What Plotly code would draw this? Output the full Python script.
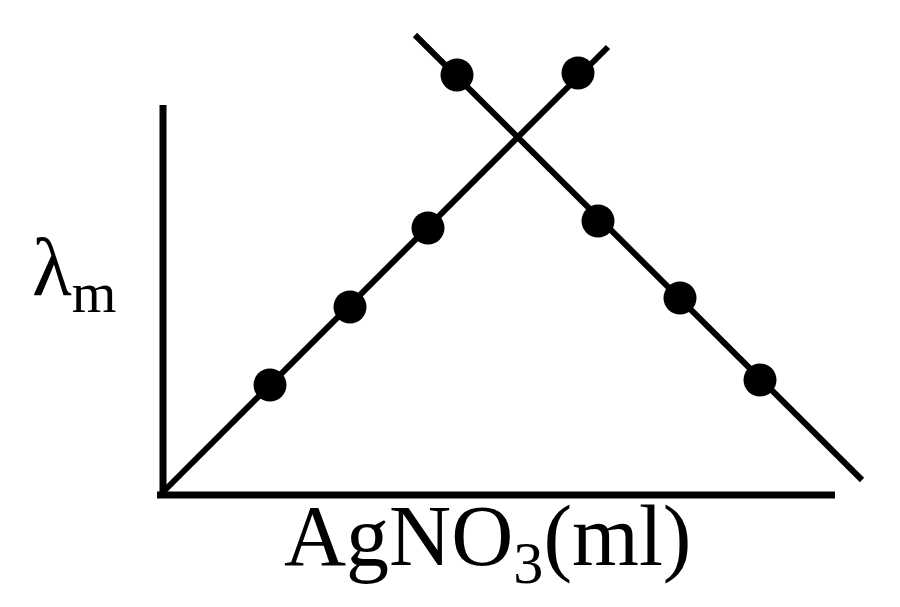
import plotly.graph_objects as go

# ----------------------------
# Dades (unitats arbitràries llegides del gràfic)
# ----------------------------
vol_rising = [1.10, 1.90, 2.68, 4.18]
cond_rising = [1.10, 1.88, 2.67, 4.22]

vol_falling = [2.97, 4.38, 5.20, 6.00]
cond_falling = [4.20, 2.74, 1.97, 1.15]

# rectes ajustades
fit_rising_x = [0.0, 4.48]
fit_rising_y = [0.0, 4.48]
fit_falling_x = [2.55, 7.02]
fit_falling_y = [4.60, 0.15]

# eixos
axis_x_end = 6.75
axis_y_end = 3.90

x_label = "AgNO<sub>3</sub>(ml)"
y_label = "λ<sub>m</sub>"

fig = go.Figure()

fig.add_trace(go.Scatter(x=fit_rising_x, y=fit_rising_y, mode="lines",
                         line=dict(color="black", width=6)))
fig.add_trace(go.Scatter(x=fit_falling_x, y=fit_falling_y, mode="lines",
                         line=dict(color="black", width=6)))
fig.add_trace(go.Scatter(x=vol_rising, y=cond_rising, mode="markers",
                         marker=dict(color="black", size=33)))
fig.add_trace(go.Scatter(x=vol_falling, y=cond_falling, mode="markers",
                         marker=dict(color="black", size=33)))

# eixos dibuixats a mà
fig.add_shape(type="line", x0=0.03, x1=0.03, y0=-0.03, y1=axis_y_end,
              line=dict(color="black", width=7))
fig.add_shape(type="line", x0=-0.03, x1=axis_x_end, y0=0.0, y1=0.0,
              line=dict(color="black", width=7))

fig.add_annotation(x=3.28, y=-0.47, text=x_label, showarrow=False,
                   xanchor="center", yanchor="middle",
                   font=dict(family="Liberation Serif", size=86, color="black"))
fig.add_annotation(x=-1.30, y=2.22, text=y_label, showarrow=False,
                   xanchor="left", yanchor="middle",
                   font=dict(family="Liberation Serif", size=82, color="black"))

fig.update_layout(
    width=900, height=607,
    margin=dict(l=0, r=0, t=0, b=0),
    showlegend=False,
    plot_bgcolor="white", paper_bgcolor="white",
    xaxis=dict(range=[-1.52, 7.48], visible=False),
    yaxis=dict(range=[-1.20, 4.87], visible=False),
)

fig.write_html("out.html")
